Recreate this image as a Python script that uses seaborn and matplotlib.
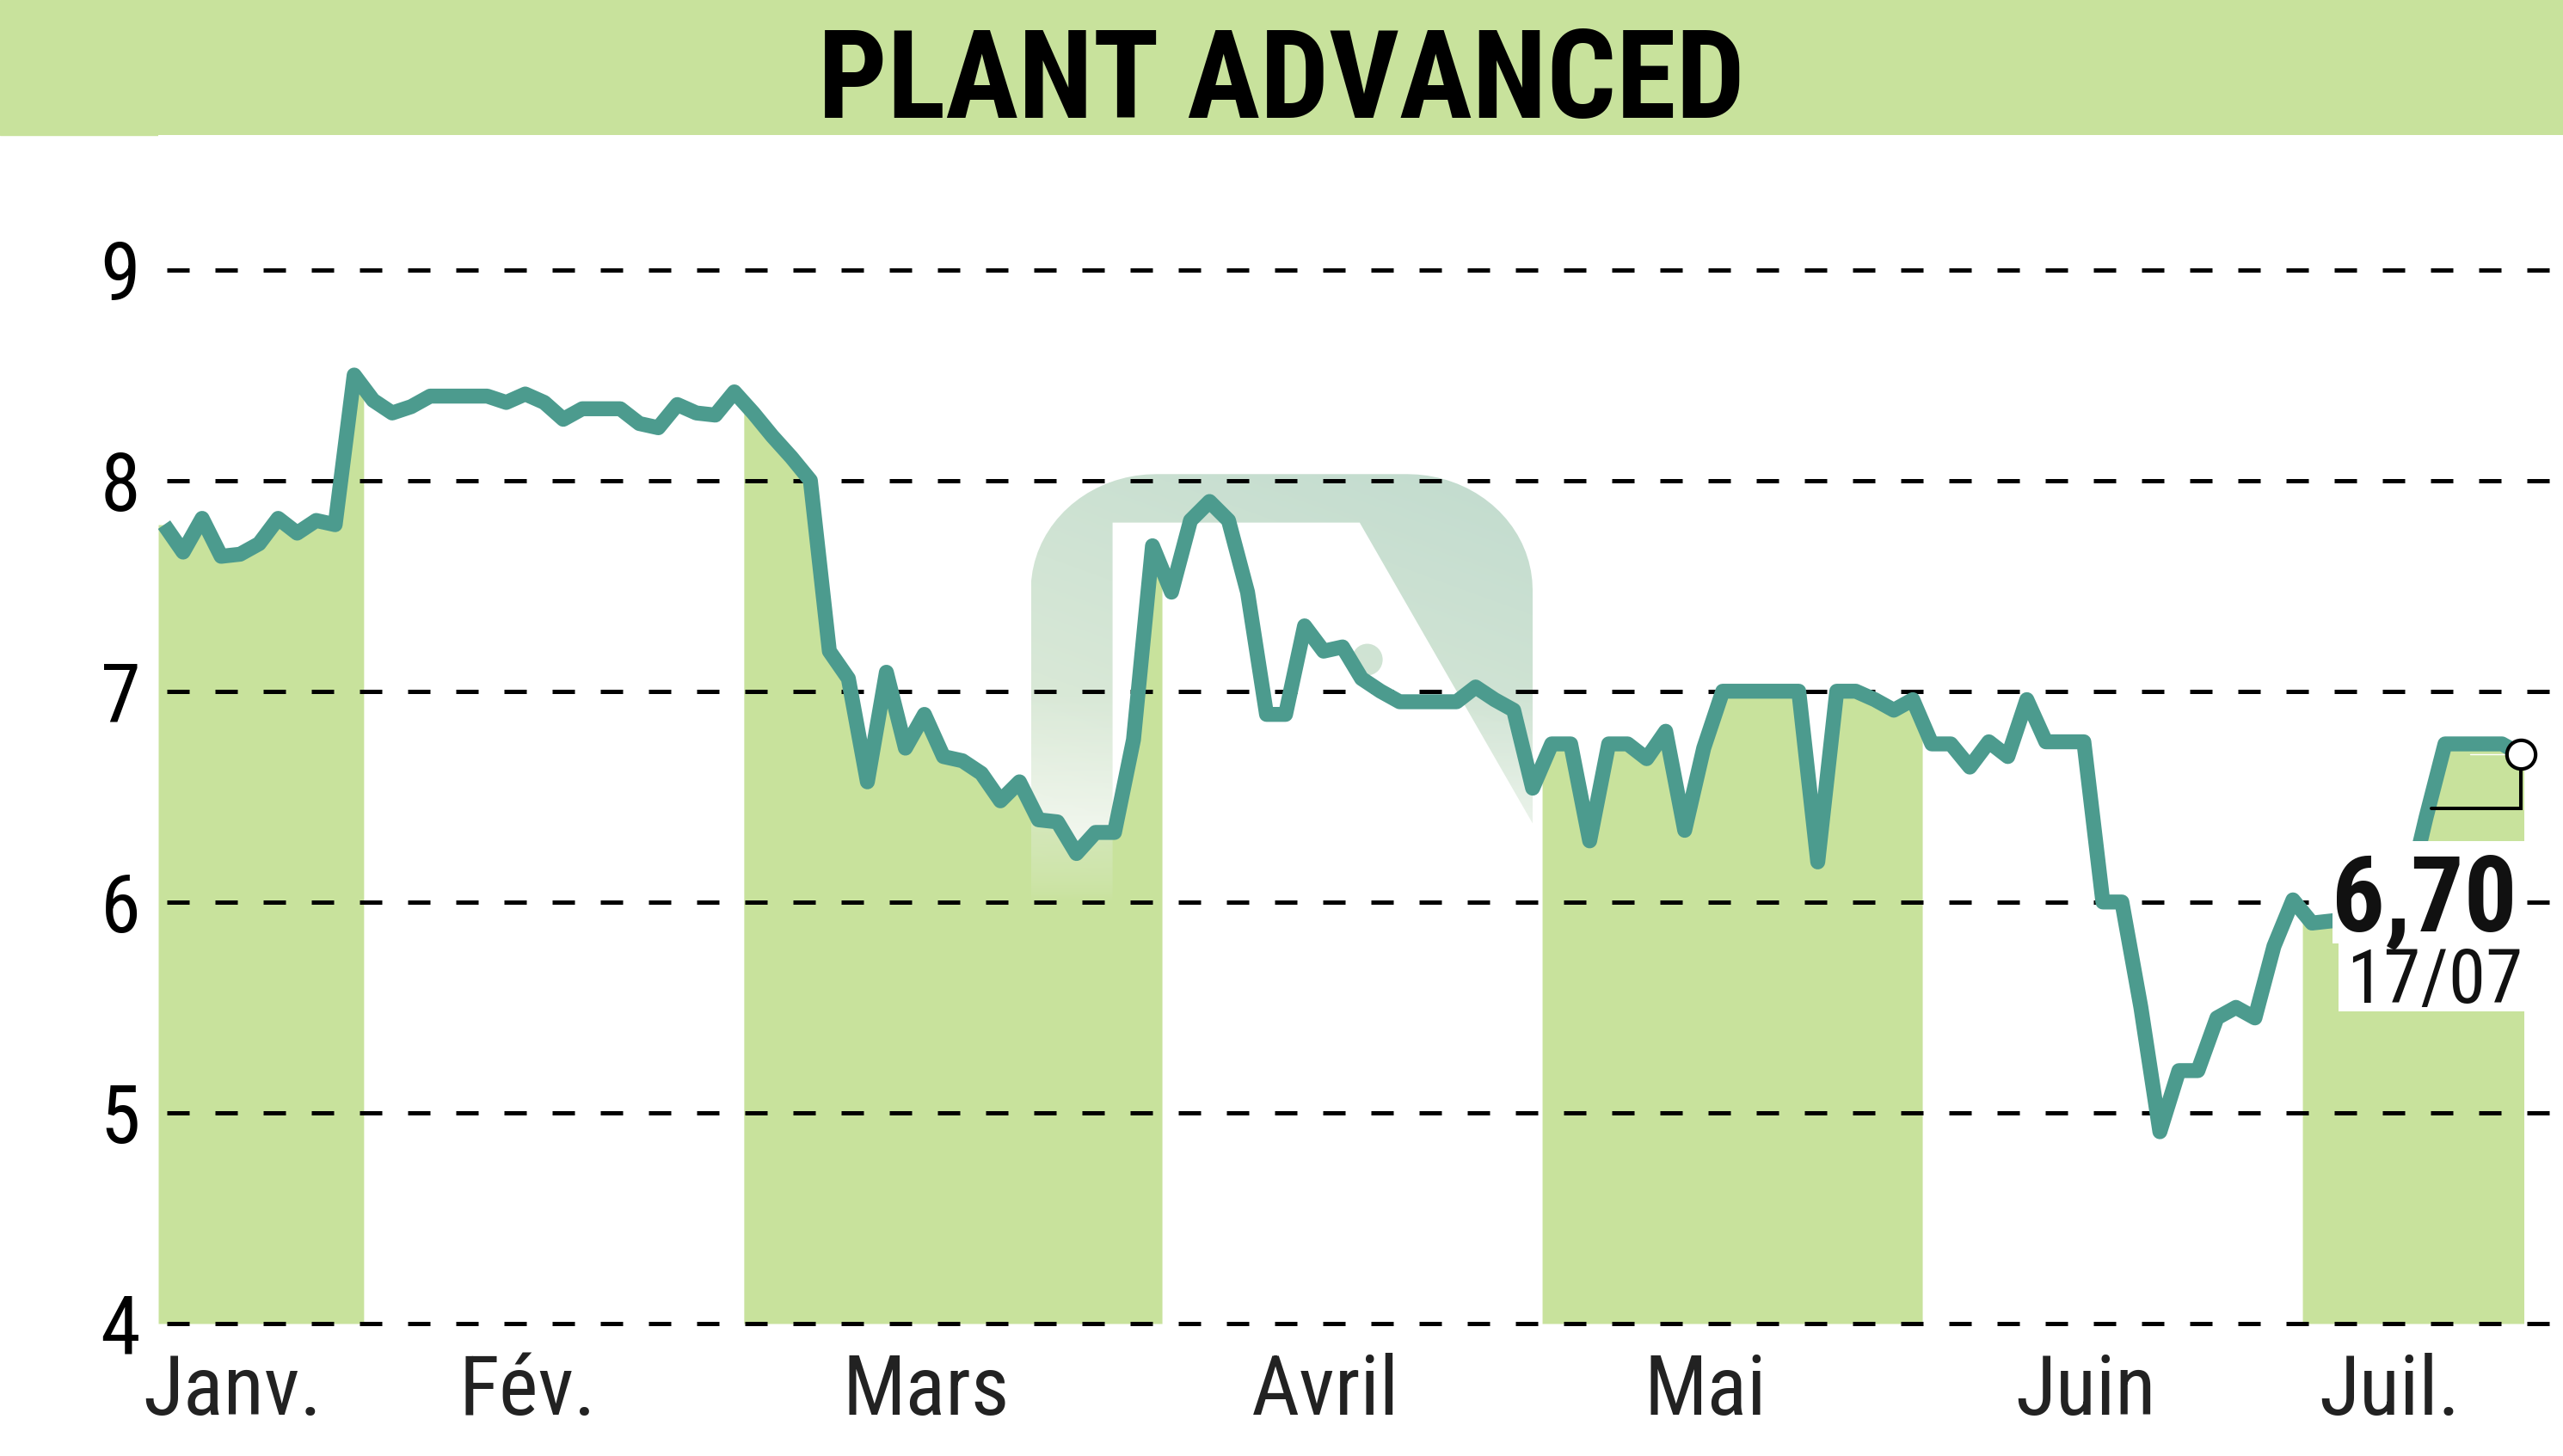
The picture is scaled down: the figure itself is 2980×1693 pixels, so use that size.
import numpy as np
import pandas as pd
import matplotlib
matplotlib.use("Agg")
import matplotlib.pyplot as plt
import seaborn as sns
from matplotlib import font_manager
from matplotlib.patches import Rectangle, PathPatch
from matplotlib.path import Path

# Cours de clôture (du 17/01 au 17/07), un tableau par mois
janv = [7.79, 7.66, 7.82, 7.64, 7.65, 7.70, 7.82, 7.75, 7.81, 7.79, 8.50]
fev = [8.38, 8.32, 8.35, 8.40, 8.40, 8.40, 8.40, 8.37, 8.41, 8.37,
       8.29, 8.34, 8.34, 8.34, 8.27, 8.25, 8.36, 8.32, 8.31, 8.42]
mars = [8.32, 8.21, 8.11, 8.00, 7.19, 7.06, 6.57, 7.09, 6.73, 6.89, 6.69,
        6.67, 6.61, 6.48, 6.57, 6.39, 6.38, 6.23, 6.33, 6.33, 6.77, 7.69]
avril = [7.47, 7.81, 7.90, 7.81, 7.47, 6.89, 6.89, 7.31, 7.19, 7.21,
         7.06, 7.00, 6.95, 6.95, 6.95, 6.95, 7.02, 6.96, 6.91, 6.54]
mai = [6.75, 6.75, 6.29, 6.75, 6.75, 6.68, 6.81, 6.34, 6.73, 7.00,
       7.00, 7.00, 7.00, 7.00, 6.19, 7.00, 7.00, 6.96, 6.91, 6.96]
juin = [6.75, 6.75, 6.64, 6.76, 6.69, 6.96, 6.76, 6.76, 6.76, 6.00,
        6.00, 5.50, 4.91, 5.20, 5.20, 5.45, 5.50, 5.45, 5.79, 6.01]
juil = [5.90, 5.91, 5.92, 5.95, 6.00, 6.02, 6.40, 6.75, 6.75, 6.75, 6.75, 6.70]

mois = ["Janv.", "Fév.", "Mars", "Avril", "Mai", "Juin", "Juil."]
graduations = [4, 5, 6, 7, 8, 9]
titre = "PLANT ADVANCED"
dernier_cours = "6,70"
derniere_date = "17/07"

series = [janv, fev, mars, avril, mai, juin, juil]
valeurs = np.concatenate(series)
n = len(valeurs)
df = pd.DataFrame({"jour": np.arange(n), "cours": valeurs})
debuts = np.cumsum([0] + [len(s) for s in series[:-1]])

vert_clair = "#c8e29c"
turquoise = "#4c9b8e"

# polices : une police étroite si disponible
sns.set_style("white")
noms = {f.name for f in font_manager.fontManager.ttflist}
if "Liberation Sans Narrow" in noms:
    police, etire = "Liberation Sans Narrow", "normal"
elif "Roboto Condensed" in noms:
    police, etire = "Roboto Condensed", "normal"
else:
    police, etire = "DejaVu Sans", "condensed"
plt.rcParams["font.family"] = [police, "DejaVu Sans"]
plt.rcParams["font.stretch"] = etire

W, H = 2980, 1693
fig = plt.figure(figsize=(W / 100, H / 100), dpi=100)
fig.patch.set_facecolor("white")
ax = fig.add_axes([184 / W, 1 - 1539 / H, 1 - 184 / W, (1539 - 157) / H])
x0, dx = 190.8, 22.1
xlim = ((184 - x0) / dx, (W - x0) / dx)
ylim = (4, 9 + (313.6 - 157) / 245.2)

# bandeau du titre
fig.add_artist(Rectangle((0, 1 - 157 / H), 1, 157 / H, transform=fig.transFigure,
                         color=vert_clair, zorder=0))
fig.text(0.5, 1 - 137 / H, titre, ha="center", va="baseline", fontsize=102,
         fontweight="bold", color="black")

# zones des mois impairs
for k in (0, 2, 4, 6):
    a = max(debuts[k] - 0.5, xlim[0])
    b = debuts[k] + len(series[k]) - 0.5
    if k == 6:
        b = n - 1 + 0.15
    xs = np.r_[a, np.arange(np.ceil(a), np.floor(b) + 1), b]
    ys = np.interp(xs, df["jour"], df["cours"])
    ax.fill_between(xs, ys, 4, color=vert_clair, lw=0, zorder=1)

# logo en filigrane
L, R, T, B = 45.6, 72.0, 8.03, 6.0
rx, ry = 6.6, 0.55
t = np.linspace(0, np.pi / 2, 20)
coin_g = np.c_[L + rx - rx * np.cos(t), T - ry + ry * np.sin(t)]
coin_d = np.c_[R - rx + rx * np.sin(t), T - ry + ry * np.cos(t)]
pente = 0.8 / 5.1
y_diag = 7.80 - (R - 62.9) * pente
contour = np.vstack([[L, B], coin_g, coin_d, [R, y_diag], [62.9, 7.80],
                     [49.9, 7.80], [49.9, B], [L, B]])
rond = Path.unit_circle().transformed(
    matplotlib.transforms.Affine2D().scale(0.81, 0.075).translate(63.3, 7.15))
chemin = Path.make_compound_path(Path(contour, closed=True), rond)
clip = PathPatch(chemin, transform=ax.transData, fc="none", ec="none")

vv = np.linspace(B, T, 200)[:, None]
hh = np.linspace(0, 1, 200)[None, :]
haut = np.array([0.76, 0.86, 0.81])
bas = np.array([0.90, 0.94, 0.86])
m = np.clip((vv - B) / (T - B), 0, 1)
img = np.zeros((200, 200, 4))
for c in range(3):
    img[..., c] = bas[c] + (haut[c] - bas[c]) * (0.7 * m + 0.3 * hh)
img[..., 3] = np.clip((vv - B) / (7.0 - B), 0, 1) ** 0.7 * np.ones_like(hh)
im = ax.imshow(img, extent=(L, R, B, T), origin="lower", aspect="auto",
               zorder=1.5, interpolation="bilinear")
im.set_clip_path(clip)

# grille pointillée
for g in graduations:
    ax.axhline(g, color="black", lw=3.6, linestyle=(9.2, (5.2, 6.0)),
               zorder=2, clip_on=False)

# courbe
sns.lineplot(data=df, x="jour", y="cours", color=turquoise, lw=12.5, ax=ax,
             zorder=3, solid_joinstyle="round", solid_capstyle="butt")

# cartouche du dernier cours
ax.add_patch(Rectangle((114.1, 5.805), 124.2 - 114.1, 6.29 - 5.805,
                       fc="white", ec="none", zorder=4))
ax.add_patch(Rectangle((114.4, 5.48), 124.2 - 114.4, 5.805 - 5.48,
                       fc="white", ec="none", zorder=4))
ax.text(123.8, 5.862, dernier_cours, ha="right", va="baseline", fontsize=88,
        fontweight="bold", color="#111111", zorder=5)
ax.text(124.1, 5.52, derniere_date, ha="right", va="baseline", fontsize=63,
        color="#111111", zorder=5)
ax.plot([121.3, n - 1], [valeurs[-1], valeurs[-1]], color="white", lw=1, zorder=3.5)
ax.plot([n - 1, n - 1, 119.3], [valeurs[-1], 6.445, 6.445], color="black",
        lw=2.9, zorder=4.5, solid_joinstyle="miter")
ax.plot([n - 1], [valeurs[-1]], marker="o", ms=24, mfc="white", mec="black",
        mew=3, zorder=6, clip_on=False)

# axes
ax.set_xlim(*xlim)
ax.set_ylim(*ylim)
ax.set_yticks(graduations)
ax.set_yticklabels([str(g) for g in graduations])
pos_mois = [d + (len(s) - 1) / 2 - 1.4 for d, s in zip(debuts, series)]
ax.set_xticks(pos_mois)
ax.set_xticklabels(mois)
ax.tick_params(axis="y", length=0, pad=15, labelsize=68, labelcolor="black")
ax.tick_params(axis="x", length=0, pad=24.5, labelsize=70, labelcolor="#222222")
ax.set_xlabel("")
ax.set_ylabel("")
for s in ax.spines.values():
    s.set_visible(False)

fig.savefig("out.png", dpi=100)
